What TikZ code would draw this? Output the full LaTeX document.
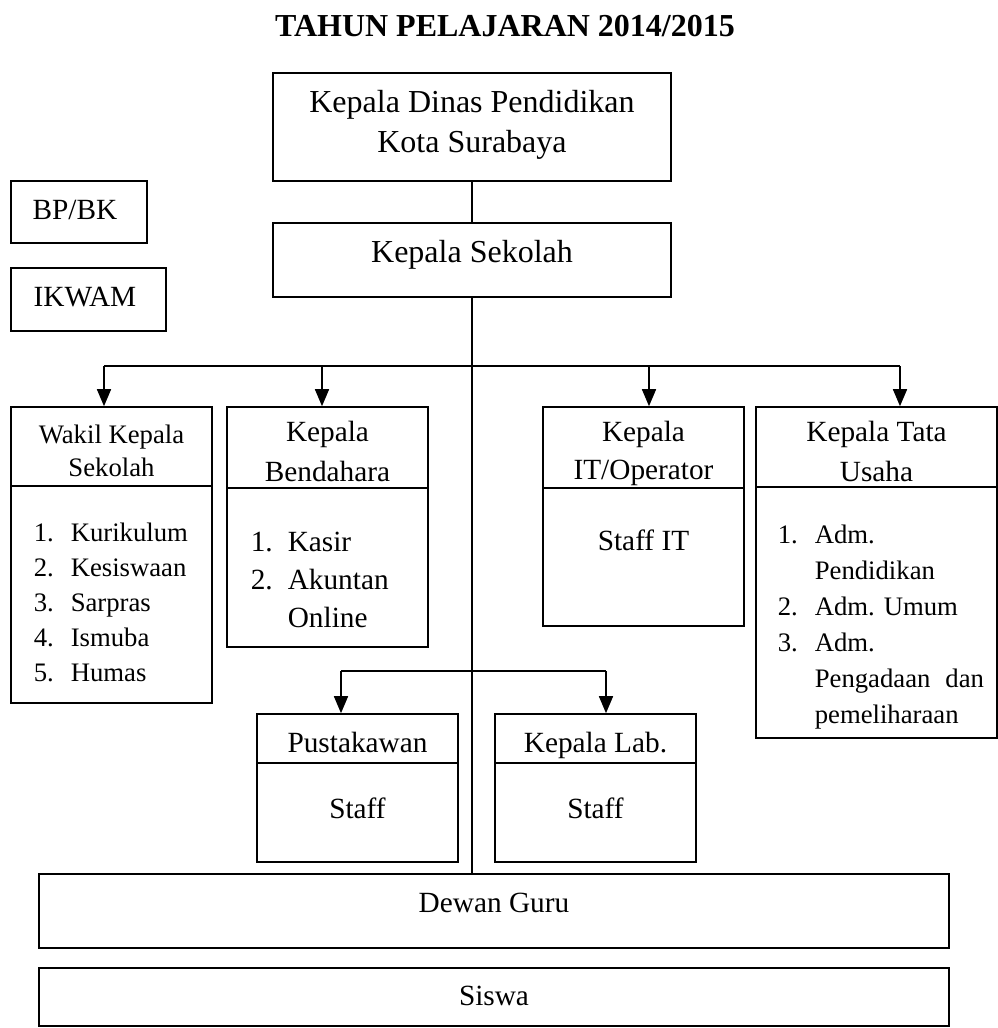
\documentclass[tikz,border=0pt]{standalone}
\usepackage{fontspec}
\setmainfont{Liberation Serif}
\usetikzlibrary{arrows.meta}

\newcommand{\butir}[1]{\makebox[37pt][l]{#1}}

\begin{document}
\begin{tikzpicture}
	[x=1pt, y=-1pt, line width=1.6pt,
	every node/.style={inner sep=0pt, font=\fontsize{29.3}{38}\selectfont},
	box/.style 2 args={draw, minimum width=#1pt, minimum height=#2pt},
	txt/.style={anchor=base},
	big/.style={align=center, font=\fontsize{32}{40}\selectfont},
	small/.style={font=\fontsize{26.7}{35}\selectfont},
	head/.style={align=center, font=\fontsize{29.3}{40}\selectfont},
	list/.style={align=left, anchor=west},
	arr/.style={-{Triangle[length=17pt,width=14pt]}}]
	\useasboundingbox (0,0) rectangle (998,1028);
	\node[txt] (judul) at (505,36) {\fontsize{32}{40}\selectfont\bfseries TAHUN PELAJARAN 2014/2015};
	% kotak
	\node[box={398}{108}] (dinas) at (472,127) {};
	\node[box={398}{74}] (kepsek) at (472,260) {};
	\node[box={136}{62}] (bpbk) at (79,212) {};
	\node[box={155}{63}] (ikwam) at (88.5,299.5) {};
	\node[box={201}{296}] (wakil) at (111.5,555) {};
	\node[box={201}{240}] (bendahara) at (327.5,527) {};
	\node[box={201}{219}] (it) at (643.5,516.5) {};
	\node[box={241}{331}] (tu) at (876.5,572.5) {};
	\node[box={201}{148}] (pustaka) at (357.5,788) {};
	\node[box={201}{148}] (lab) at (595.5,788) {};
	\node[box={910}{74}] (guru) at (494,911) {};
	\node[box={910}{58}] (siswa) at (494,997) {};
	% garis bagi
	\draw ([yshift=-80pt]wakil.north west) -- ([yshift=-80pt]wakil.north east);
	\draw ([yshift=-82pt]bendahara.north west) -- ([yshift=-82pt]bendahara.north east);
	\draw ([yshift=-82pt]it.north west) -- ([yshift=-82pt]it.north east);
	\draw ([yshift=-81pt]tu.north west) -- ([yshift=-81pt]tu.north east);
	\draw ([yshift=-50pt]pustaka.north west) -- ([yshift=-50pt]pustaka.north east);
	\draw ([yshift=-50pt]lab.north west) -- ([yshift=-50pt]lab.north east);
	% teks
	\node[big] (dinasT) at (472,125) {Kepala Dinas Pendidikan\\Kota Surabaya};
	\node[txt, big] (kepsekT) at (472,262) {Kepala Sekolah};
	\node[txt] (bpbkT) at (75,219) {BP/BK};
	\node[txt] (ikwamT) at (85,306) {IKWAM};
	\node[head, small, font=\fontsize{26.7}{33}\selectfont] (wakilT) at (111.5,451) {Wakil Kepala\\Sekolah};
	\node[head] (bendaharaT) at (327.5,451) {Kepala\\Bendahara};
	\node[head, font=\fontsize{29.3}{38}\selectfont] (itT) at (643.5,453) {Kepala\\IT/Operator};
	\node[head] (tuT) at (876.5,451) {Kepala Tata\\Usaha};
	\node[txt] (itS) at (643.5,550) {Staff IT};
	\node[txt] (pustakaT) at (357.5,752) {Pustakawan};
	\node[txt] (labT) at (595.5,752) {Kepala Lab.};
	\node[txt] (pustakaS) at (357.5,818) {Staff};
	\node[txt] (labS) at (595.5,818) {Staff};
	\node[txt] (guruT) at (494,912) {Dewan Guru};
	\node[txt] (siswaT) at (494,1005) {Siswa};
	\node[list, small] (wakilL) at (33,602)
		{\butir{1.}Kurikulum\\\butir{2.}Kesiswaan\\\butir{3.}Sarpras\\\butir{4.}Ismuba\\\butir{5.}Humas};
	\node[list] (bendaharaL) at (250,580) {\butir{1.}Kasir\\\butir{2.}Akuntan\\\butir{}Online};
	\node[list, small, font=\fontsize{26.7}{36}\selectfont] (tuL) at (777,627.5)
		{\butir{1.}Adm.\\\butir{}Pendidikan\\\butir{2.}Adm. Umum\\\butir{3.}Adm.\\\butir{}Pengadaan\hspace{15pt}dan\\\butir{}pemeliharaan};
	% garis hubung
	\coordinate (b1) at (104,366);
	\coordinate (b2) at (322,366);
	\coordinate (b3) at (649,366);
	\coordinate (b4) at (900,366);
	\coordinate (c1) at (341,671);
	\coordinate (c2) at (606,671);
	\draw (dinas) -- (kepsek);
	\draw (kepsek.south) -- (kepsek.south |- guru.north);
	\draw (b1) -- (b4);
	\draw[arr] (b1) -- (b1 |- wakil.north);
	\draw[arr] (b2) -- (b2 |- bendahara.north);
	\draw[arr] (b3) -- (b3 |- it.north);
	\draw[arr] (b4) -- (b4 |- tu.north);
	\draw (c1) -- (c2);
	\draw[arr] (c1) -- (c1 |- pustaka.north);
	\draw[arr] (c2) -- (c2 |- lab.north);
\end{tikzpicture}
\end{document}
